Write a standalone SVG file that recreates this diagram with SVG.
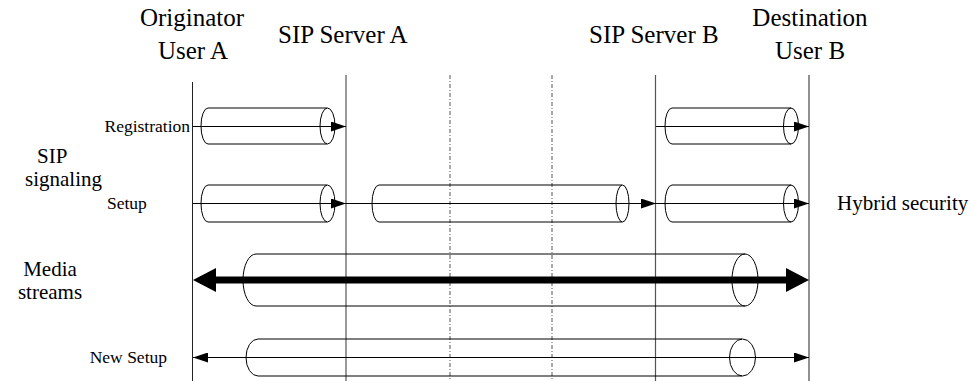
<svg xmlns="http://www.w3.org/2000/svg" width="972" height="381" viewBox="0 0 972 381">
  <style>
    text { font-family: "Liberation Serif", "Times New Roman", serif; fill: #000; }
    .hdr { font-size: 25px; }
    .lbl { font-size: 21px; }
    .small { font-size: 17.5px; }
    .life { stroke: #222; stroke-width: 1; fill: none; }
    .srv { stroke: #555; stroke-width: 1.2; fill: none; }
    .dash { stroke: #555; stroke-width: 1; stroke-dasharray: 4 2 1 2; fill: none; }
    .cyl { stroke: #000; stroke-width: 1; fill: none; }
    .msg { stroke: #000; stroke-width: 1; fill: none; }
    .media { stroke: #000; stroke-width: 7; fill: none; }
  </style>
  <defs>
    <marker id="arrowThin" viewBox="0 0 15 10" markerUnits="userSpaceOnUse" markerWidth="15" markerHeight="10" refX="15" refY="5" orient="auto-start-reverse">
      <path d="M0,0 L15,5 L0,10 z" fill="#000"/>
    </marker>
    <marker id="arrowThick" viewBox="0 0 23 24" markerUnits="userSpaceOnUse" markerWidth="23" markerHeight="24" refX="16" refY="12" orient="auto-start-reverse">
      <path d="M0,0 L23,12 L0,24 z" fill="#000"/>
    </marker>
  </defs>

  <!-- Column headings -->
  <g id="userA">
    <text class="hdr" x="192" y="26" text-anchor="middle">Originator</text>
    <text class="hdr" x="193" y="59" text-anchor="middle">User A</text>
    <line class="life" x1="192.5" y1="82" x2="192.5" y2="381"/>
  </g>
  <g id="serverA">
    <text class="hdr" x="278" y="43">SIP Server A</text>
    <line class="srv" x1="346" y1="75" x2="346" y2="381"/>
  </g>
  <g id="boundary1">
    <line class="dash" x1="450" y1="75" x2="450" y2="381"/>
  </g>
  <g id="boundary2">
    <line class="dash" x1="552" y1="75" x2="552" y2="381"/>
  </g>
  <g id="serverB">
    <text class="hdr" x="589" y="43">SIP Server B</text>
    <line class="srv" x1="655.5" y1="75" x2="655.5" y2="381"/>
  </g>
  <g id="userB">
    <text class="hdr" x="810" y="26" text-anchor="middle">Destination</text>
    <text class="hdr" x="810" y="59" text-anchor="middle">User B</text>
    <line class="life" x1="809" y1="75" x2="809" y2="381"/>
  </g>

  <!-- Row labels -->
  <g id="rowLabels">
    <text class="lbl" x="37" y="163">SIP</text>
    <text class="lbl" x="25" y="186">signaling</text>
    <text class="small" x="190" y="132" text-anchor="end">Registration</text>
    <text class="small" x="107" y="209">Setup</text>
    <text class="lbl" x="50" y="276" text-anchor="middle">Media</text>
    <text class="lbl" x="50" y="299" text-anchor="middle">streams</text>
    <text class="small" x="167" y="363" text-anchor="end">New Setup</text>
    <text class="lbl" x="837" y="210">Hybrid security</text>
  </g>

  <!-- Secure tunnels (cylinders) -->
  <g id="tunnelRegA">
    <path class="cyl" d="M208,108 A7,18 0 0 0 208,144 H327 M208,108 H327"/>
    <ellipse class="cyl" cx="327.5" cy="126" rx="7.5" ry="18"/>
  </g>
  <g id="tunnelRegB">
    <path class="cyl" d="M672,108 A7,18 0 0 0 672,144 H791 M672,108 H791"/>
    <ellipse class="cyl" cx="791" cy="126" rx="7.5" ry="18"/>
  </g>
  <g id="tunnelSetupA">
    <path class="cyl" d="M208,185 A7,18.5 0 0 0 208,222 H327 M208,185 H327"/>
    <ellipse class="cyl" cx="327.5" cy="203.5" rx="7.5" ry="18.5"/>
  </g>
  <g id="tunnelSetupMid">
    <path class="cyl" d="M379,185 A7,18.5 0 0 0 379,222 H622 M379,185 H622"/>
    <ellipse class="cyl" cx="622.5" cy="203.5" rx="6.5" ry="18.5"/>
  </g>
  <g id="tunnelSetupB">
    <path class="cyl" d="M672,185 A7,18.5 0 0 0 672,222 H791 M672,185 H791"/>
    <ellipse class="cyl" cx="791" cy="203.5" rx="7.5" ry="18.5"/>
  </g>
  <g id="tunnelMedia">
    <path class="cyl" d="M256,254 A13,26 0 0 0 256,306 H745 M256,254 H745"/>
    <ellipse class="cyl" cx="745" cy="280" rx="13" ry="26"/>
  </g>
  <g id="tunnelNewSetup">
    <path class="cyl" d="M258,339 A12,18.5 0 0 0 258,376 H742 M258,339 H742"/>
    <ellipse class="cyl" cx="742.5" cy="357.5" rx="13" ry="18.5"/>
  </g>

  <!-- Message connectors -->
  <g id="connectors">
    <line class="msg" x1="193" y1="126.5" x2="346" y2="126.5" marker-end="url(#arrowThin)"/>
    <line class="msg" x1="656" y1="126.5" x2="809" y2="126.5" marker-end="url(#arrowThin)"/>
    <line class="msg" x1="193" y1="203.5" x2="346" y2="203.5" marker-end="url(#arrowThin)"/>
    <line class="msg" x1="346" y1="203.5" x2="656" y2="203.5" marker-end="url(#arrowThin)"/>
    <line class="msg" x1="656" y1="203.5" x2="809" y2="203.5" marker-end="url(#arrowThin)"/>
    <line class="media" x1="200" y1="280" x2="802" y2="280" marker-start="url(#arrowThick)" marker-end="url(#arrowThick)"/>
    <line class="msg" x1="193" y1="357.5" x2="809" y2="357.5" marker-start="url(#arrowThin)" marker-end="url(#arrowThin)"/>
  </g>
</svg>
